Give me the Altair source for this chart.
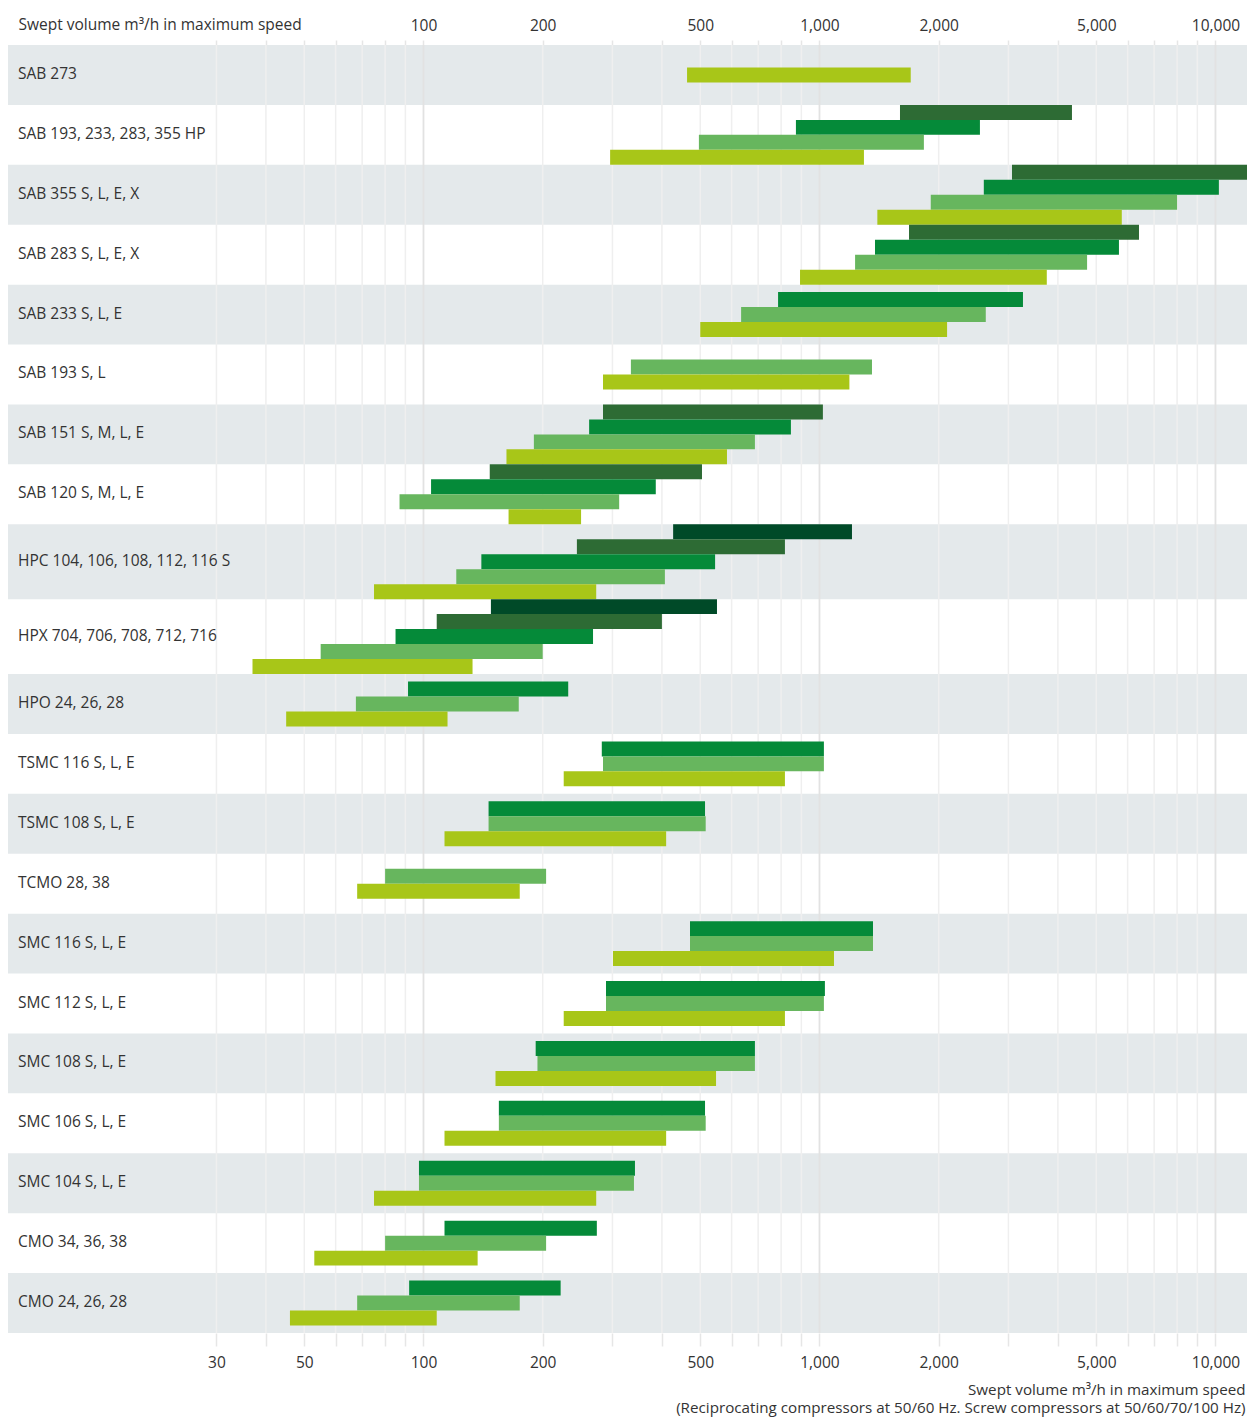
import altair as alt
import pandas as pd

categories = [
    "SAB 273", "SAB 193, 233, 283, 355 HP", "SAB 355 S, L, E, X", "SAB 283 S, L, E, X",
    "SAB 233 S, L, E", "SAB 193 S, L", "SAB 151 S, M, L, E", "SAB 120 S, M, L, E",
    "HPC 104, 106, 108, 112, 116 S", "HPX 704, 706, 708, 712, 716", "HPO 24, 26, 28",
    "TSMC 116 S, L, E", "TSMC 108 S, L, E", "TCMO 28, 38", "SMC 116 S, L, E",
    "SMC 112 S, L, E", "SMC 108 S, L, E", "SMC 106 S, L, E", "SMC 104 S, L, E",
    "CMO 34, 36, 38", "CMO 24, 26, 28",
]

N = None
# series 1 (lime) .. series 5 (darkest green); bottom bar to top bar within a row
s1_lo = [463, 296, 1400, 893, 500, 284, 162, 164, 75, 37, 45, 226, 113, 68, 301, 226, 152, 113, 75, 53, 46]
s1_hi = [1700, 1295, 5800, 3750, 2100, 1190, 584, 250, 273, 133, 115, 818, 410, 175, 1088, 818, 548, 410, 273, 137, 108]
s2_lo = [N, 496, 1910, 1230, 634, 334, 190, 87, 121, 55, 67.5, 284, 146, 80, 471, 289, 194, 155, 97.4, 80, 68]
s2_hi = [N, 1835, 8000, 4740, 2630, 1357, 687, 312, 407, 200, 174, 1026, 516, 204, 1365, 1026, 687, 516, 340, 204, 175]
s3_lo = [N, 872, 2600, 1381, 786, N, 262, 104.5, 140, 85, 91.4, 282, 146, N, 471, 289, 192, 155, 97.4, 113, 92]
s3_hi = [N, 2542, 10200, 5705, 3265, N, 847, 386, 545, 268, 232, 1026, 514, N, 1365, 1032, 687, 514, 342, 274, 222]
s4_lo = [N, 1597, 3063, 1683, N, N, 284, 147, 244, 108, N, N, N, N, N, N, N, N, N, N, N]
s4_hi = [N, 4341, 12600, 6410, N, N, 1020, 505, 818, 400, N, N, N, N, N, N, N, N, N, N, N]
s5_lo = [N, N, N, N, N, N, N, N, 427, 148, N, N, N, N, N, N, N, N, N, N, N]
s5_hi = [N, N, N, N, N, N, N, N, 1208, 551, N, N, N, N, N, N, N, N, N, N, N]

series_names = ["s1", "s2", "s3", "s4", "s5"]
series_colors = ["#a8c618", "#67b65e", "#058a39", "#2d6b34", "#004a28"]
series = list(zip(series_names, [s1_lo, s2_lo, s3_lo, s4_lo, s5_lo], [s1_hi, s2_hi, s3_hi, s4_hi, s5_hi]))

grid_values = [30, 40, 50, 60, 70, 80, 90,
               100, 200, 300, 400, 500, 600, 700, 800, 900,
               1000, 2000, 3000, 4000, 5000, 6000, 7000, 8000, 9000, 10000]
major_values = [100, 1000, 10000]
top_labels = [100, 200, 500, 1000, 2000, 5000, 10000]
bottom_labels = [30, 50, 100, 200, 500, 1000, 2000, 5000, 10000]

# ---- layout (slots of equal height, rows of at least 4 slots) ----
rows, bars = [], []
top = 0
for r, cat in enumerate(categories):
    present = [k for k, (nm, lo, hi) in enumerate(series) if lo[r] is not None]
    n = len(present)
    slots = max(4, n)
    rows.append(dict(cat=cat, y0=top, y1=top + slots, ymid=top + slots / 2, band=(r % 2 == 0)))
    start = top + (slots - n) / 2
    for j, k in enumerate(reversed(present)):
        nm, lo, hi = series[k]
        bars.append(dict(cat=cat, series=nm, lo=lo[r], hi=hi[r], y0=start + j, y1=start + j + 1))
    top += slots
total_slots = top

rows_df = pd.DataFrame(rows)
bars_df = pd.DataFrame(bars)
minor_df = pd.DataFrame({"v": [v for v in grid_values if v not in major_values]})
major_df = pd.DataFrame({"v": major_values})

W = 1239
H = 1288
FONT = "Open Sans"
FS = 15.5
TXT = "#333333"

xscale = alt.Scale(type="log", domain=[8.928, 12012], nice=False)
yscale = alt.Scale(domain=[0, total_slots], reverse=True, nice=False, zero=False)

top_expr = "indexof(%s, datum.value) >= 0 ? format(datum.value, ',') : ''" % str(top_labels)
bot_expr = "indexof(%s, datum.value) >= 0 ? format(datum.value, ',') : ''" % str(bottom_labels)

bands = alt.Chart(rows_df).transform_filter("datum.band").mark_rect(color="#e4e9eb").encode(
    x=alt.value(0), x2=alt.value(W),
    y=alt.Y("y0:Q", scale=yscale, axis=None), y2="y1:Q",
)

grid_minor = alt.Chart(minor_df).mark_rule(strokeWidth=1.5, color="#efefef").encode(
    x=alt.X("v:Q", scale=xscale,
            axis=alt.Axis(orient="top", values=grid_values, labelExpr=top_expr,
                          grid=False, domain=False, ticks=True, tickSize=5,
                          tickColor="#e6e6e6", tickWidth=1.5, labelPadding=7,
                          labelFont=FONT, labelFontSize=FS, labelColor=TXT,
                          labelFlush=False, labelOverlap=False,
                          title="Swept volume m³/h in maximum speed",
                          titleFont=FONT, titleFontSize=FS, titleFontWeight="normal",
                          titleColor=TXT, titleX=10, titleY=-21, titleAlign="left",
                          titleBaseline="middle", titleAngle=0)),
)

grid_major = alt.Chart(major_df).mark_rule(strokeWidth=1.8, color="#e2e2e2").encode(
    x=alt.X("v:Q", scale=xscale, axis=None),
)

bar_layer = alt.Chart(bars_df).mark_rect(clip=True).encode(
    x=alt.X("lo:Q", scale=xscale,
            axis=alt.Axis(orient="bottom", values=grid_values, labelExpr=bot_expr,
                          grid=False, domain=False, ticks=True, tickSize=13,
                          tickColor="#e6e6e6", tickWidth=1.5, labelPadding=9,
                          labelFont=FONT, labelFontSize=FS, labelColor=TXT,
                          labelFlush=False, labelOverlap=False,
                          title=["Swept volume m³/h in maximum speed",
                                 "(Reciprocating compressors at 50/60 Hz. Screw compressors at 50/60/70/100 Hz)"],
                          titleFont=FONT, titleFontSize=15.2, titleFontWeight="normal",
                          titleColor=TXT, titleX=W - 2, titleY=49, titleAlign="right",
                          titleBaseline="top", titleLineHeight=18, titleAngle=0)),
    x2="hi:Q",
    y=alt.Y("y0:Q", scale=yscale, axis=None), y2="y1:Q",
    color=alt.Color("series:N", scale=alt.Scale(domain=series_names, range=series_colors), legend=None),
)

labels = alt.Chart(rows_df).mark_text(align="left", baseline="middle", font=FONT, fontSize=FS,
                                      color=TXT, dy=-1).encode(
    x=alt.value(10),
    y=alt.Y("ymid:Q", scale=yscale, axis=None),
    text="cat:N",
)

chart = alt.layer(bands, grid_minor, grid_major, bar_layer, labels).resolve_axis(x="independent").properties(
    width=W, height=H,
    autosize=alt.AutoSizeParams(type="none"),
    padding={"left": 0, "top": 37, "right": 0, "bottom": 86},
).configure_view(stroke=None)

chart.save("out.html", embed_options={"renderer": "svg", "actions": False})
